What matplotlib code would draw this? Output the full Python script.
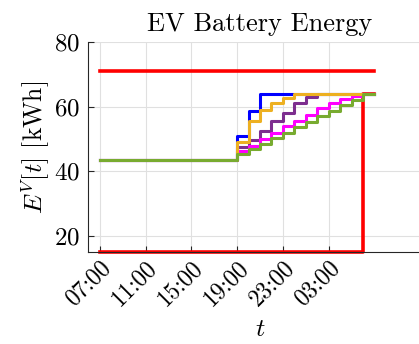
import matplotlib
matplotlib.use("Agg")
import matplotlib.pyplot as plt
import matplotlib.transforms as mtransforms

plt.rcParams["font.family"] = "serif"
plt.rcParams["font.serif"] = ["cmr10"]
plt.rcParams["mathtext.fontset"] = "cm"
plt.rcParams["axes.formatter.use_mathtext"] = True

# hours counted from 07:00 of the first day
hours = list(range(25))
tick_hours = [0, 4, 8, 12, 16, 20]
tick_labels = ["07:00", "11:00", "15:00", "19:00", "23:00", "03:00"]

e_init = 43.5
idle = [e_init] * 12  # 07:00 .. 18:00

e_blue = idle + [51.0, 58.6] + [64.0] * 11
e_purple = idle + [47.4, 49.5, 52.4, 55.4, 58.0, 61.2, 62.8] + [64.0] * 6
e_magenta = idle + [46.2, 47.8, 49.9, 51.9, 54.0, 55.6, 57.5, 59.4,
                    61.1, 62.2, 63.2, 64.0, 64.0]
e_orange = idle + [49.0, 55.5, 59.0, 61.0, 62.5] + [64.0] * 8
e_green = idle + [45.2, 46.8, 48.5, 50.2, 51.9, 53.6, 55.3, 57.0,
                  58.7, 60.4, 62.1, 64.0, 64.0]

e_max = [71.0] * 25
e_min = [15.0] * 23 + [64.0, 64.0]

series = [
    (e_blue, (0, 0, 1)),
    (e_purple, (0.49, 0.18, 0.56)),
    (e_magenta, (1, 0, 1)),
    (e_orange, (0.93, 0.69, 0.13)),
    (e_green, (0.47, 0.67, 0.19)),
]

fig = plt.figure(figsize=(4.19, 3.44), dpi=100)
# axes run slightly past the right edge of the canvas
ax = fig.add_axes([0.21, 0.268, 0.82, 0.61])

ax.step(hours, e_max, where="post", color="red", lw=2.6, clip_on=False, zorder=2)
ax.step(hours, e_min, where="post", color="red", lw=2.6, clip_on=False, zorder=2)
for vals, c in series:
    ax.step(hours, vals, where="post", color=c, lw=2.2, zorder=3)

ax.set_xlim(-1.05, 29.0)
ax.set_ylim(15, 80)
ax.set_xticks(tick_hours)
ax.set_xticklabels(tick_labels, rotation=45, ha="right", va="top",
                   rotation_mode="anchor", fontsize=17)
ax.set_yticks([20, 40, 60, 80])

# nudge the rotated time labels a little right and down
shift = mtransforms.ScaledTranslation(5 / 100, -10 / 100, fig.dpi_scale_trans)
for lbl in ax.get_xticklabels():
    lbl.set_transform(lbl.get_transform() + shift)

ax.grid(True, color=(0.88, 0.88, 0.88), lw=0.8)
ax.set_axisbelow(True)
for s in ["top", "right"]:
    ax.spines[s].set_visible(False)
for s in ["left", "bottom"]:
    ax.spines[s].set_color((0.15, 0.15, 0.15))
    ax.spines[s].set_linewidth(0.8)
ax.tick_params(direction="in", length=4, width=0.8, colors=(0.15, 0.15, 0.15),
               labelcolor="black")
ax.tick_params(axis="y", pad=6, labelsize=18)

ax.set_title("EV Battery Energy", fontsize=19, pad=8)
ax.set_ylabel(r"$E^V[t]$ [kWh]", fontsize=18.5, labelpad=1)
ax.set_xlabel(r"$t$", fontsize=18.5, labelpad=5)

fig.savefig("out.png", dpi=100)
